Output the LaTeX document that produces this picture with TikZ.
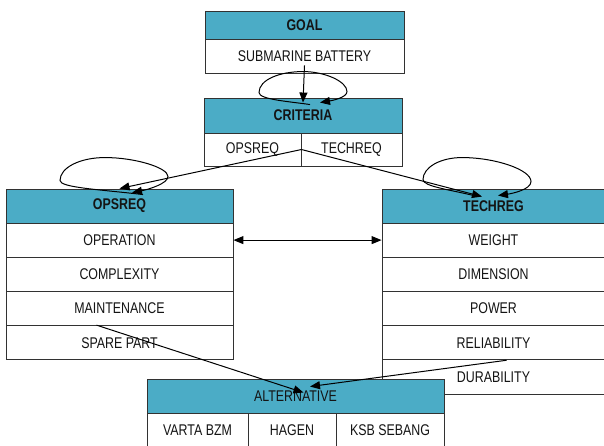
\documentclass[tikz,border=0pt]{standalone}
\usepackage{fontspec}
\setmainfont{Liberation Sans}[FakeStretch=0.8]
\usetikzlibrary{calc,arrows.meta}
\definecolor{hdrfill}{RGB}{75,172,198}
\definecolor{edgecol}{RGB}{50,50,50}
\definecolor{txtcol}{RGB}{20,20,20}
\begin{document}
\begin{tikzpicture}[x=1pt,y=-1pt,
  box/.style={draw=edgecol,line width=0.9pt,inner sep=0pt,text=txtcol,font=\fontsize{15.5}{17}\selectfont},
  hdr/.style={box,fill=hdrfill,font=\fontsize{15.5}{17}\selectfont\bfseries},
  althdr/.style={box,fill=hdrfill},
  cell/.style={box,fill=white},
  conn/.style={draw=black,line width=1pt},
  tip/.style={-{Triangle[length=10pt,width=8pt]}}
]
\useasboundingbox (0,0) rectangle (604,445);
% GOAL
\node[hdr,minimum width=199pt,minimum height=28pt] (goalh) at (304.5,25) {GOAL};
\node[cell,minimum width=199pt,minimum height=34pt] (goalb) at (304.5,56) {SUBMARINE BATTERY};
% CRITERIA
\node[hdr,minimum width=198pt,minimum height=35pt] (crith) at (303,115.5) {CRITERIA};
\node[cell,minimum width=97pt,minimum height=33pt] (critl) at (252.5,149.5) {OPSREQ};
\node[cell,minimum width=101pt,minimum height=33pt] (critr) at (351.5,149.5) {TECHREQ};
% OPSREQ
\node[hdr,minimum width=227pt,minimum height=34pt] (opsh) at (119.5,206) {OPSREQ};
\node[cell,minimum width=227pt,minimum height=34.2pt] (ops1) at (119.5,240.1) {OPERATION};
\node[cell,minimum width=227pt,minimum height=34.2pt] (ops2) at (119.5,274.3) {COMPLEXITY};
\node[cell,minimum width=227pt,minimum height=34.2pt] (ops3) at (119.5,308.5) {MAINTENANCE};
\node[cell,minimum width=227pt,minimum height=34.2pt] (ops4) at (119.5,342.7) {SPARE PART};
% TECHREG
\node[hdr,minimum width=223pt,minimum height=34pt] (tech) at (493.5,206) {TECHREG};
\node[cell,minimum width=223pt,minimum height=34.2pt] (tech1) at (493.5,240.1) {WEIGHT};
\node[cell,minimum width=223pt,minimum height=34.2pt] (tech2) at (493.5,274.3) {DIMENSION};
\node[cell,minimum width=223pt,minimum height=34.2pt] (tech3) at (493.5,308.5) {POWER};
\node[cell,minimum width=223pt,minimum height=34.2pt] (tech4) at (493.5,342.7) {RELIABILITY};
\node[cell,minimum width=223pt,minimum height=34.2pt] (tech5) at (493.5,376.9) {DURABILITY};
% ALTERNATIVE
\node[althdr,minimum width=297pt,minimum height=34pt] (alth) at (295.5,396) {ALTERNATIVE};
\node[cell,minimum width=101pt,minimum height=34pt] (alt1) at (197.5,430) {VARTA BZM};
\node[cell,minimum width=88pt,minimum height=34pt] (alt2) at (292,430) {HAGEN};
\node[cell,minimum width=108pt,minimum height=34pt] (alt3) at (390,430) {KSB SEBANG};
% connectors
\draw[conn,tip] ($(goalb.south)+(0,-8)$) -- ($(crith.north)+(0,5)$);
\begin{scope}[shift={(crith.north)}]
\draw[conn,tip] (7,7) .. controls (-13,4) and (-44,2) .. (-44,-5)
  .. controls (-44,-18) and (-23,-26) .. (0,-26)
  .. controls (22,-26) and (44,-16) .. (44,-6)
  .. controls (44,0) and (29,3) .. (17,5);
\end{scope}
\draw[conn,tip] (critl.east) -- (opsh.north);
\draw[conn,tip] (critl.east) -- ($(tech.north)+(-11.5,8)$);
\begin{scope}[shift={(opsh.north)}]
\draw[conn,tip] (23.5,6) .. controls (-19.5,1) and (-59.5,-1) .. (-59.5,-8)
  .. controls (-59.5,-21) and (-39.5,-31) .. (-14.5,-31)
  .. controls (15.5,-31) and (48.5,-21) .. (48.5,-12)
  .. controls (48.5,-5) and (28.5,1) .. (12.5,4);
\end{scope}
\begin{scope}[shift={(tech.north)}]
\draw[conn,tip] (-15.5,8) .. controls (-43.5,1) and (-70.5,-2) .. (-70.5,-9)
  .. controls (-70.5,-21) and (-53.5,-31) .. (-31.5,-31)
  .. controls (1.5,-31) and (37.5,-19) .. (37.5,-7)
  .. controls (37.5,1) and (18.5,5) .. (4.5,7);
\end{scope}
\draw[conn,{Triangle[length=10pt,width=8pt]}-{Triangle[length=10pt,width=8pt]}] (ops1.east) -- (tech1.west);
\draw[conn,tip] ($(ops4.north west)+(91,0)$) -- ($(alth.north)+(8,14)$);
\draw[conn,tip] ($(tech4.south)+(13,0)$) -- ($(alth.north)+(14.5,8)$);
\end{tikzpicture}
\end{document}
